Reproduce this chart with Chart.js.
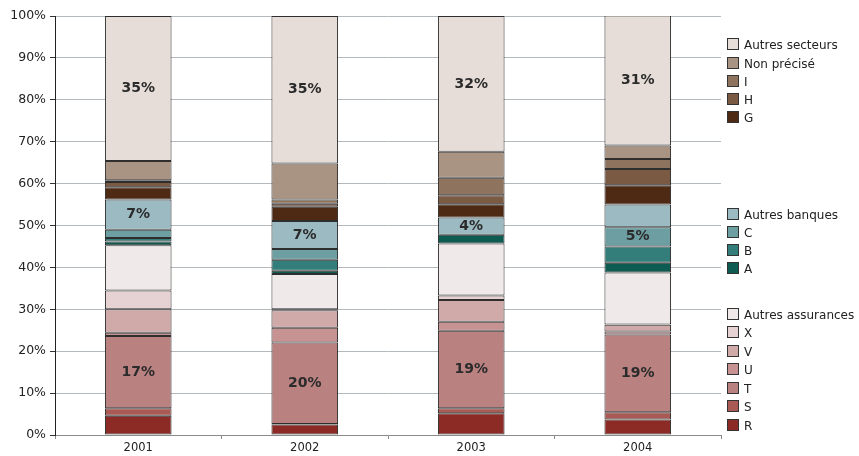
<!DOCTYPE html>
<html>
<head>
<meta charset="utf-8">
<script src="https://cdn.jsdelivr.net/npm/chart.js@4.4.1/dist/chart.umd.min.js"></script>
<style>
    html, body { margin: 0; padding: 0; background: #fff; }
    #wrap { position: relative; width: 859px; height: 456px; }
    #legend { position: absolute; left: 0; top: 0; width: 859px; height: 456px; pointer-events: none;
        font-family: 'DejaVu Sans', sans-serif; font-size: 12px; color: #222; }
    .item { position: absolute; left: 727px; height: 14px; line-height: 14px; white-space: nowrap; }
    .box { display: inline-block; width: 10px; height: 10px; border: 1px solid #333; vertical-align: -1px; margin-right: 5px; }
</style>
</head>
<body>
<div id="wrap">
    <canvas id="chart" width="859" height="456"></canvas>
    <div id="legend"></div>
</div>
<script>
// Shares per year, in percent
const years = ['2001', '2002', '2003', '2004'];

const R = [4.6, 2.5, 5.2, 3.7];
const S = [1.8, 0.1, 1.2, 1.7];
const T = [17.2, 19.5, 18.5, 18.6];
const U = [0.8, 3.5, 2.1, 0.7];
const V = [5.6, 4.2, 5.2, 1.6];
const X = [4.5, 0.2, 1.1, 0.1];
const autresAssurances = [10.8, 8.4, 12.4, 12.4];
const A = [0.9, 0.8, 2.1, 2.3];
const B = [0.8, 2.6, 0.0, 3.9];
const C = [2.0, 2.6, 0.0, 4.6];
const autresBanques = [7.2, 6.7, 4.1, 5.4];
const G = [2.9, 3.4, 3.2, 4.6];
const H = [1.3, 0.7, 2.1, 3.9];
const I = [0.4, 1.0, 4.2, 2.4];
const nonPrecise = [4.6, 8.6, 6.2, 3.2];
const autresSecteurs = [34.6, 35.2, 32.4, 31.0];

const yTicks = [0, 10, 20, 30, 40, 50, 60, 70, 80, 90, 100];

// labels written inside some segments
const labelsT = ['17%', '20%', '19%', '19%'];
const labelsBanques = ['7%', '7%', '4%', null];
const labelsC = [null, null, null, '5%'];
const labelsSecteurs = ['35%', '35%', '32%', '31%'];

// bottom to top
const series = [
    { name: 'R', data: R, color: '#8c2a26' },
    { name: 'S', data: S, color: '#a95a55' },
    { name: 'T', data: T, color: '#b98180' },
    { name: 'U', data: U, color: '#c79292' },
    { name: 'V', data: V, color: '#d0a9a9' },
    { name: 'X', data: X, color: '#e6d2d2' },
    { name: 'Autres assurances', data: autresAssurances, color: '#efe9e9' },
    { name: 'A', data: A, color: '#0e5b52' },
    { name: 'B', data: B, color: '#337e7b' },
    { name: 'C', data: C, color: '#6d9ea1' },
    { name: 'Autres banques', data: autresBanques, color: '#9bbac2' },
    { name: 'G', data: G, color: '#4e2913' },
    { name: 'H', data: H, color: '#7b5a44' },
    { name: 'I', data: I, color: '#8e745f' },
    { name: 'Non précisé', data: nonPrecise, color: '#a99383' },
    { name: 'Autres secteurs', data: autresSecteurs, color: '#e6ddd8' }
];

const segmentLabels = {
    'T': labelsT,
    'C': labelsC,
    'Autres banques': labelsBanques,
    'Autres secteurs': labelsSecteurs
};

// legend rows: name and y position
const legendRows = [
    ['Autres secteurs', 45], ['Non précisé', 64], ['I', 82], ['H', 100], ['G', 118],
    ['Autres banques', 215], ['C', 233], ['B', 251], ['A', 269],
    ['Autres assurances', 315], ['X', 333], ['V', 352], ['U', 370], ['T', 389], ['S', 407], ['R', 426]
];

const legend = document.getElementById('legend');
legendRows.forEach(([name, y]) => {
    const s = series.find(d => d.name === name);
    const div = document.createElement('div');
    div.className = 'item';
    div.style.top = (y - 7) + 'px';
    div.innerHTML = '<span class="box" style="background:' + s.color + '"></span>' + name;
    legend.appendChild(div);
});

const labelPlugin = {
    id: 'segmentLabels',
    afterDatasetsDraw(chart) {
        const ctx = chart.ctx;
        ctx.save();
        ctx.font = 'bold 14px "DejaVu Sans", sans-serif';
        ctx.fillStyle = '#2b2b2b';
        ctx.textAlign = 'center';
        ctx.textBaseline = 'middle';
        chart.data.datasets.forEach((ds, i) => {
            const texts = segmentLabels[ds.label];
            if (!texts) return;
            chart.getDatasetMeta(i).data.forEach((bar, j) => {
                if (!texts[j]) return;
                const p = bar.getProps(['x', 'y', 'base'], true);
                ctx.fillText(texts[j], p.x, (p.y + p.base) / 2);
            });
        });
        ctx.restore();
    }
};

new Chart(document.getElementById('chart'), {
    type: 'bar',
    data: {
        labels: years,
        datasets: series.map(s => ({
            label: s.name,
            data: s.data,
            backgroundColor: s.color,
            borderColor: '#2e2e2e',
            borderWidth: 1,
            borderSkipped: false,
            barPercentage: 0.4,
            categoryPercentage: 1
        }))
    },
    options: {
        responsive: false,
        animation: false,
        layout: { padding: { top: 16, right: 138, bottom: 0, left: 0 } },
        plugins: {
            legend: { display: false },
            tooltip: { enabled: false }
        },
        scales: {
            x: {
                stacked: true,
                afterFit(scale) { scale.height = 21; },
                border: { color: '#8a8a8a', width: 1 },
                grid: { drawOnChartArea: false, tickLength: 4, tickColor: '#8a8a8a' },
                ticks: { color: '#222', font: { family: 'DejaVu Sans', size: 11.5 }, padding: 2 }
            },
            y: {
                stacked: true,
                min: 0,
                max: 100,
                afterFit(scale) { scale.width = 55; },
                afterBuildTicks(scale) { scale.ticks = yTicks.map(v => ({ value: v })); },
                border: { color: '#222', width: 1 },
                grid: { color: '#b3b9bd', tickLength: 5, tickColor: '#333' },
                ticks: {
                    color: '#222',
                    font: { family: 'DejaVu Sans', size: 12.5 },
                    padding: 4,
                    callback: v => v + '%'
                }
            }
        }
    },
    plugins: [labelPlugin]
});
</script>
</body>
</html>
